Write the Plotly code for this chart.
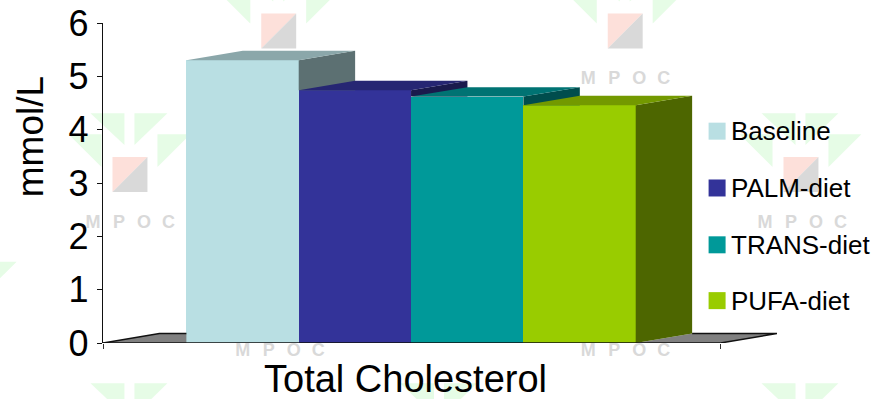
import plotly.graph_objects as go

# Chart content
CATEGORY = "Total Cholesterol"
UNIT = "mmol/L"
SERIES = ["Baseline", "PALM-diet", "TRANS-diet", "PUFA-diet"]
VALUES = [5.3, 4.74, 4.62, 4.46]
TICKS = [0, 1, 2, 3, 4, 5, 6]

# Face colours per series
FRONT = ["#b9dfe3", "#333399", "#009999", "#99cc00"]
TOP = ["#8ba7aa", "#262673", "#007373", "#739900"]
SIDE = ["#5c7072", "#1a1a4d", "#004d4d", "#4d6600"]
FLOOR = "#808080"

WIDTH, HEIGHT = 871, 399
# The plot area runs out to the floor's back corner; the visible axis stops earlier
LEFT, RIGHT, TOP_PX, BOTTOM = 102.5, 777.5, 22.5, 343.5
AXIS_END_PX = 721.0
BAR_PX = 112.5
UNIT_PX = (BOTTOM - TOP_PX) / 6
FIRST_EDGE_PX = 186.0

# Oblique projection offset of the back face, in axis units
DEPTH_X = 56.5 / BAR_PX
DEPTH_Y = 9.5 / UNIT_PX
X_MIN = -(FIRST_EDGE_PX - LEFT) / BAR_PX
X_MAX = (AXIS_END_PX - FIRST_EDGE_PX) / BAR_PX


def data_x(px):
    return (px - FIRST_EDGE_PX) / BAR_PX


def data_y(px):
    return (BOTTOM - px) / UNIT_PX


def paper_x(px):
    return (px - LEFT) / (RIGHT - LEFT)


def paper_y(px):
    return (BOTTOM - px) / (BOTTOM - TOP_PX)


def poly(x, y, color):
    return go.Scatter(
        x=x + x[:1], y=y + y[:1], mode="lines", fill="toself", fillcolor=color,
        line=dict(width=0, color=color),
        cliponaxis=False, hoverinfo="skip", showlegend=False,
    )


def edge(x, y):
    return go.Scatter(
        x=x, y=y, mode="lines", line=dict(color="#111111", width=1.5),
        cliponaxis=False, hoverinfo="skip", showlegend=False,
    )


fig = go.Figure()

# Floor either side of the columns
n = len(VALUES)
fig.add_trace(poly([X_MIN, X_MIN + DEPTH_X, 0.0, 0.0], [0, DEPTH_Y, DEPTH_Y, 0], FLOOR))
fig.add_trace(edge([X_MIN, X_MIN + DEPTH_X, 0.0], [0, DEPTH_Y, DEPTH_Y]))
fig.add_trace(poly([n, n + DEPTH_X, X_MAX + DEPTH_X, X_MAX], [0, DEPTH_Y, DEPTH_Y, 0], FLOOR))
fig.add_trace(edge([n + DEPTH_X, X_MAX + DEPTH_X, X_MAX], [DEPTH_Y, DEPTH_Y, 0]))

# Front faces as a real bar series, one unit wide and touching
for i, (name, value) in enumerate(zip(SERIES, VALUES)):
    fig.add_trace(go.Bar(
        x=[i + 0.5], y=[value], width=1, name=name, marker=dict(color=FRONT[i], line_width=0),
        showlegend=False, cliponaxis=False,
    ))

# Top and side faces; each side stops at the next column's top, which covers the rest
for i, value in enumerate(VALUES):
    left, right = float(i), float(i + 1)
    side_x = [right, right + DEPTH_X, right + DEPTH_X, right]
    if i < n - 1:
        side_y = [value, value + DEPTH_Y, VALUES[i + 1], VALUES[i + 1]]
    else:
        side_y = [value, value + DEPTH_Y, DEPTH_Y, 0]
    fig.add_trace(poly(side_x, side_y, SIDE[i]))
    fig.add_trace(poly([left, left + DEPTH_X, right + DEPTH_X, right],
                       [value, value + DEPTH_Y, value + DEPTH_Y, value], TOP[i]))

# Category axis line, ending where the floor's front edge ends
fig.add_trace(edge([X_MIN, X_MAX], [0, 0]))

# Legend swatches
LEGEND_X_PX = 717.5
LEGEND_TEXT_X_PX = 730.5
LEGEND_ROWS_PX = [131, 188, 245, 301]
for color, row in zip(FRONT, LEGEND_ROWS_PX):
    fig.add_trace(go.Scatter(
        x=[data_x(LEGEND_X_PX)], y=[data_y(row)], mode="markers",
        marker=dict(symbol="square", size=17, color=color, line_width=0),
        cliponaxis=False, hoverinfo="skip", showlegend=False,
    ))

# Background logo tiles
LOGO_ORIGINS = [(261, 13), (608, 13), (112, 157), (448, 157), (784, 157),
                (-62, 285), (261, 285), (608, 285), (112, 428), (422, 428), (784, 428)]
LEAF = "#e6fce6"
LEAVES = [[(-22, -44), (12, -44), (12, -12)], [(22, -44), (55, -44), (22, -12)],
          [(45, -23), (78, -23), (45, 10)], [(-44, -23), (-11, -23), (-11, 10)]]
SQUARE = 35
shapes = []


def tile_path(points):
    coords = [f"{paper_x(px):.5f} {paper_y(py):.5f}" for px, py in points]
    return "M " + " L ".join(coords) + " Z"


for sx, sy in LOGO_ORIGINS:
    for leaf in LEAVES:
        shapes.append(dict(type="path", xref="paper", yref="paper", layer="below",
                           path=tile_path([(sx + a, sy + b) for a, b in leaf]),
                           fillcolor=LEAF, line_width=0))
    shapes.append(dict(type="path", xref="paper", yref="paper", layer="below",
                       path=tile_path([(sx, sy), (sx + SQUARE, sy), (sx, sy + SQUARE)]),
                       fillcolor="#fde0da", line_width=0))
    shapes.append(dict(type="path", xref="paper", yref="paper", layer="below",
                       path=tile_path([(sx + SQUARE, sy), (sx + SQUARE, sy + SQUARE), (sx, sy + SQUARE)]),
                       fillcolor="#d9d9d9", line_width=0))

# Spaced logo lettering, kept in the shape layer so it sits under the columns and labels
WORD_CENTRES = [(279, 76), (625, 76), (129, 220), (448, 220), (802, 220), (279, 349), (625, 349)]
LETTERS = ["M", "P", "O", "C"]
LETTER_OFFSETS = [-36.5, -10.5, 14.5, 39]
for cx, cy in WORD_CENTRES:
    for letter, off in zip(LETTERS, LETTER_OFFSETS):
        px = cx + off
        shapes.append(dict(
            type="rect", xref="paper", yref="paper", layer="below", line_width=0,
            fillcolor="rgba(0,0,0,0)",
            x0=paper_x(px - 10), x1=paper_x(px + 10), y0=paper_y(cy + 10), y1=paper_y(cy - 10),
            label=dict(text=letter, textposition="middle center",
                       font=dict(family="Liberation Sans", size=18, color="#d9d9d9", weight="bold")),
        ))

annotations = [
    dict(text=CATEGORY, xref="paper", yref="paper", x=paper_x(405), y=paper_y(379.5),
         showarrow=False, xanchor="center", yanchor="middle", height=36, valign="middle",
         font=dict(family="Liberation Sans", size=38, color="#000000")),
    dict(text=UNIT, xref="paper", yref="paper", x=paper_x(29.5), y=paper_y(137),
         showarrow=False, textangle=-90, xanchor="center", yanchor="middle",
         font=dict(family="Liberation Sans", size=37, color="#000000")),
]
for name, row in zip(SERIES, LEGEND_ROWS_PX):
    annotations.append(dict(
        text=name, xref="paper", yref="paper", x=paper_x(LEGEND_TEXT_X_PX), y=paper_y(row),
        showarrow=False, xanchor="left", yanchor="middle", borderpad=0,
        font=dict(family="Liberation Sans", size=26, color="#000000"),
    ))

fig.update_layout(
    width=WIDTH, height=HEIGHT,
    margin=dict(l=LEFT, r=WIDTH - RIGHT, t=TOP_PX, b=HEIGHT - BOTTOM, pad=0),
    paper_bgcolor="#ffffff", plot_bgcolor="rgba(0,0,0,0)",
    barmode="overlay", bargap=0, showlegend=False,
    shapes=shapes, annotations=annotations,
    xaxis=dict(
        range=[X_MIN, data_x(RIGHT)], tickvals=[X_MIN, X_MAX], ticktext=["", ""], automargin=False,
        ticks="outside", ticklen=5, tickwidth=1.3, tickcolor="#333333",
        showline=False, showgrid=False, zeroline=False, fixedrange=True,
    ),
    yaxis=dict(
        range=[0, 6], tickvals=TICKS, ticks="outside", ticklen=5, tickwidth=1.3, automargin=False,
        tickcolor="#111111", ticklabelstandoff=1,
        tickfont=dict(family="Liberation Sans", size=36, color="#000000"),
        showline=True, linecolor="#111111", linewidth=1.3,
        showgrid=False, zeroline=False, fixedrange=True,
    ),
)

fig.write_html("out.html", config=dict(displayModeBar=False))
